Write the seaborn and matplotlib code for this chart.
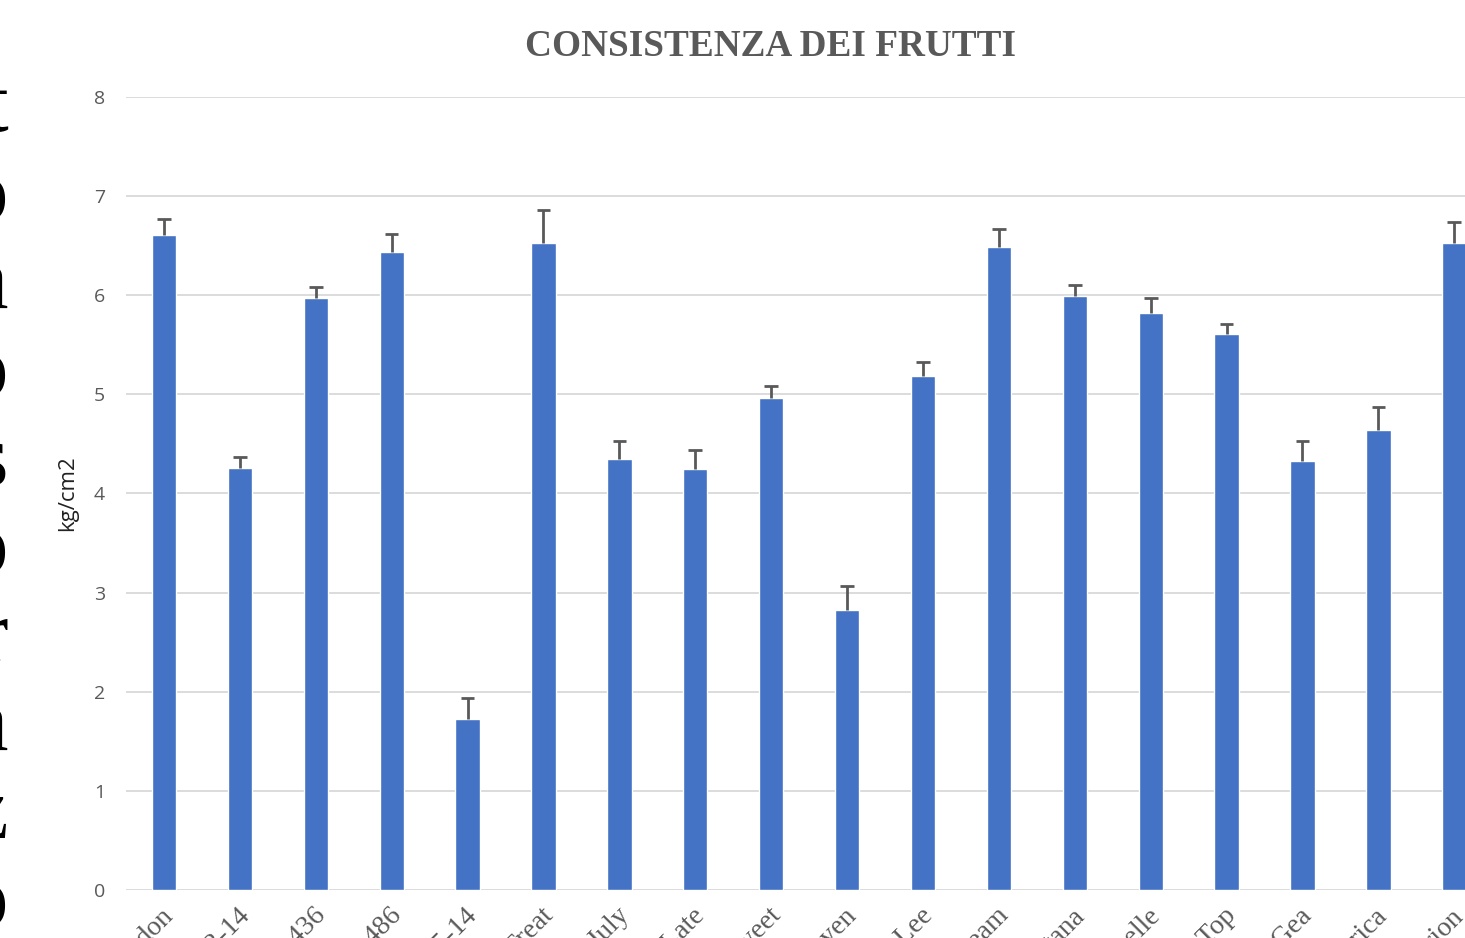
import numpy as np
import pandas as pd
import seaborn as sns
import matplotlib.pyplot as plt
import matplotlib.transforms as mtransforms

# firmness per variety (kg/cm2) and the upper error bar
varieties = ['Guardon', 'BO 03-14', 'CRA 436', 'CRA 486', 'BO 05-14', 'Sweet Treat',
             'Early July', 'Royal Late', 'Honey Sweet', 'Haven', 'Spring Lee',
             'Sweet Dream', 'Santana', 'Nectabelle', 'Big Top', 'Alba Gea',
             'America', 'Orion']
firmness = [6.61, 4.26, 5.97, 6.44, 1.72, 6.53, 4.35, 4.25, 4.96, 2.82, 5.19,
            6.49, 5.99, 5.82, 5.61, 4.33, 4.64, 6.53]
errors = [0.16, 0.11, 0.11, 0.18, 0.22, 0.33, 0.18, 0.19, 0.12, 0.25, 0.14,
          0.18, 0.11, 0.15, 0.10, 0.20, 0.23, 0.21]
yticks = [0, 1, 2, 3, 4, 5, 6, 7, 8]

# letters of the neighbouring slide text, cut off at the left edge
side_letters = ['t', 'o', 'a', 'o', 's', 'o', 'r', 'a', 'z', 'o']

df = pd.DataFrame({'variety': varieties, 'firmness': firmness})

sns.set_style('white')
fig = plt.figure(figsize=(14.65, 9.38), dpi=100)
ax = fig.add_axes([0.086, 0.0512, 0.9326, 0.8454])

sns.barplot(data=df, x='variety', y='firmness', color='#4472C4', saturation=1,
            width=0.32, errorbar=None, ax=ax)

# upper error bars only, cap on top
xs = np.arange(len(varieties))
tops = np.array(firmness) + np.array(errors)
ax.vlines(xs, firmness, tops, color='#595959', lw=2, zorder=3)
ax.hlines(tops, xs - 0.09, xs + 0.09, color='#595959', lw=2, zorder=3)

ax.set_xlim(-0.5, len(varieties) - 0.5)
ax.set_ylim(0, 8)
ax.set_yticks(yticks)
ax.yaxis.grid(True, color='#D9D9D9', lw=1.3)
ax.set_axisbelow(True)
for s in ax.spines.values():
    s.set_visible(False)
ax.tick_params(axis='both', length=0)
ax.tick_params(axis='y', pad=15, labelsize=14, labelcolor='#595959')
for t in ax.get_yticklabels():
    t.set_fontfamily('Open Sans')

ax.set_xticks(xs)
ax.set_xticklabels(varieties, rotation=45, ha='right', va='center',
                   rotation_mode='anchor', family='Liberation Serif',
                   fontsize=20, color='#595959')
ax.tick_params(axis='x', pad=16)
offset = mtransforms.ScaledTranslation(6 / 100, 0, fig.dpi_scale_trans)
for t in ax.get_xticklabels():
    t.set_transform(t.get_transform() + offset)

ax.set_xlabel('')
ax.set_ylabel('kg/cm2', fontsize=16, family='Open Sans', color='#222222')
ax.yaxis.set_label_coords(-0.035, 0.5)

fig.text(770 / 1465, 1 - 46 / 938, 'CONSISTENZA DEI FRUTTI', ha='center',
         va='center', family='Liberation Serif', weight='bold', fontsize=26.8,
         color='#595959')

for i, ch in enumerate(side_letters):
    fig.text(8 / 1465, 1 - (110 + i * 88.3) / 938, ch, ha='right', va='center',
             family='Liberation Serif', fontsize=64, color='black')

fig.savefig('out.png', dpi=100)
